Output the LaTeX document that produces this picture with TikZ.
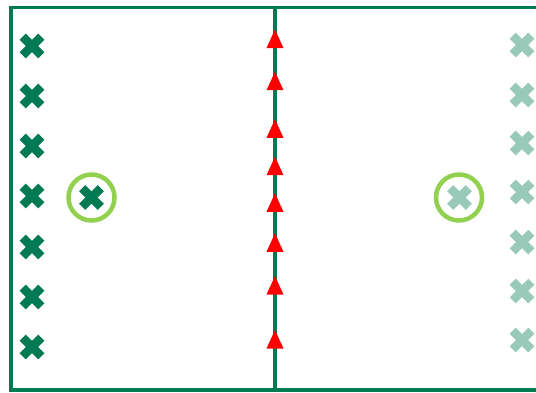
\documentclass[tikz,border=0pt]{standalone}
\definecolor{dkgreen}{RGB}{0,122,82}
\definecolor{ltgreen}{RGB}{153,201,184}
\definecolor{ringgreen}{RGB}{146,208,80}
\tikzset{
  frameline/.style={draw=dkgreen, line width=3.4pt},
  ring/.style={draw=ringgreen, line width=4.5pt},
  tri/.style={fill=red, draw=none},
  xarm/.style={line width=8.5pt},
}
\newcommand\xmk[3]{%
  \draw[xarm,#3] (#1-9.3,#2-9.3) -- (#1+9.3,#2+9.3);
  \draw[xarm,#3] (#1-9.3,#2+9.3) -- (#1+9.3,#2-9.3);}
\newcommand\trimk[1]{%
  \fill[tri] (275,#1) -- (283.5,#1+18.5) -- (266.5,#1+18.5) -- cycle;}
\begin{document}
\begin{tikzpicture}[x=1pt,y=-1pt]
\useasboundingbox (0,0) rectangle (536,392);
\clip (0,0) rectangle (536,392);
% frame
\draw[frameline] (560,7.7) -- (11,7.7) -- (11,390) -- (560,390);
\draw[frameline] (275,7.7) -- (275,390);
% triangles
\foreach \t in {29.5,71.7,119.3,156.7,193.3,233.3,276,330}{\trimk{\t}}
% left crosses
\foreach \y in {46,96,146,196,247,297,347}{\xmk{32}{\y}{dkgreen}}
% right crosses
\foreach \y in {45,95,143,192,242,291,340}{\xmk{522}{\y}{ltgreen}}
% circled crosses
\node[ring, circle, minimum size=46pt, inner sep=0pt] (lc) at (91.5,197.5) {};
\xmk{91.5}{197.5}{dkgreen}
\node[ring, circle, minimum size=46pt, inner sep=0pt] (rc) at (459,197.5) {};
\xmk{459.5}{197.5}{ltgreen}
\end{tikzpicture}
\end{document}
